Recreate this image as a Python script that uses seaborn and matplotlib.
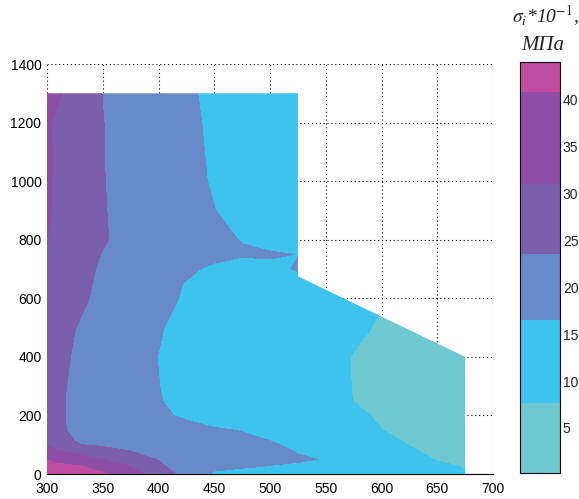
import numpy as np
import matplotlib
matplotlib.use("Agg")
import matplotlib.pyplot as plt
from matplotlib.patches import Polygon
import seaborn as sns

# grid nodes (mm) and stress intensity values sigma_i*10^-1, MPa
x_nodes = [300, 310, 325, 350, 375, 400, 425, 450, 475, 500, 525, 550, 575, 600, 625, 650, 675]
y_nodes = [0, 25, 50, 100, 150, 200, 250, 300, 400, 500, 600, 650, 700, 750, 800, 900, 1000, 1100, 1200, 1300]

sigma_grid = [
    [43.8, 43.5, 43, 41.5, 35, 26, 22, 15.5, 14.5, 14, 13.5, 13, 12, 11, 10, 9, 8],          # y=0
    [43.5, 43, 42, 38, 31, 24.8, 20, 18, 17, 16.2, 15.5, 14.5, 12.5, 11, 9.5, 8.5, 7.5],     # 25
    [40.5, 38, 35, 31, 26, 23.3, 21, 19.5, 18.5, 17.8, 17.2, 16.2, 13, 11, 9, 7.5, 6.5],     # 50
    [30, 27, 23.8, 22.5, 21.5, 20.5, 19.5, 19, 18, 17.2, 15.3, 13, 11, 9.5, 7.6, 6, 5.5],    # 100
    [28, 24.5, 22.5, 21, 20, 19, 18, 17, 16.3, 14.5, 12.5, 11.5, 10, 7.8, 6, 5.5, 5],        # 150
    [27, 24.2, 22.5, 20.8, 19, 17.3, 15.8, 14.2, 12.8, 12, 11.3, 10.5, 9, 6.8, 5.5, 5, 5],   # 200
    [26.5, 24.2, 22.5, 20.6, 18.8, 16.8, 14.8, 13, 12, 11.5, 11, 10, 7.6, 5.5, 5, 5, 5],     # 250
    [27, 24.5, 22.5, 20.5, 18.5, 16.6, 14.5, 12.5, 11.8, 11.3, 10.8, 9.8, 7.5, 5.5, 5, 5, 5],  # 300
    [28, 25.5, 22.8, 20.5, 18.5, 16.4, 14, 12.5, 11.8, 11.3, 10.8, 10, 7.4, 5.5, 5, 5, 5],   # 400
    [28.5, 26.5, 23.6, 21.5, 19.5, 17, 14.5, 13, 12, 11.5, 11, 10.5, 9, 7, 6, 5.5, 5.5],     # 500
    [29, 27.5, 24.8, 22.3, 20.3, 18.3, 15.8, 13.5, 12.5, 12, 12, 12, 11, 8, 7, 6.5, 6],      # 600
    [29.5, 27.5, 25, 22.6, 20.5, 18.5, 16.2, 14, 13, 13, 13.5, 13, 12, 11, 10, 9, 8],        # 650
    [30, 28, 25.5, 22.8, 21, 19.5, 17.5, 15.5, 14.5, 15, 17, 13, 12, 12, 12, 12, 12],        # 700
    [30.5, 28.5, 26, 23.3, 21.8, 20.5, 19.2, 18, 17, 17.2, 16.4, 12, 12, 12, 12, 12, 12],    # 750
    [31.1, 29, 26.8, 23.9, 22, 20.5, 19, 17.6, 16.3, 14, 13.5, 12, 12, 12, 12, 12, 12],      # 800
    [32, 29.5, 27, 23.8, 21.8, 20, 18.4, 16.6, 14.8, 13.6, 13, 12, 12, 12, 12, 12, 12],      # 900
    [32.2, 29.5, 27, 23.7, 21.6, 19.8, 18, 16.0, 14.2, 13.2, 12.6, 12, 12, 12, 12, 12, 12],  # 1000
    [32.3, 29.5, 27, 23.6, 21.5, 19.6, 17.8, 15.8, 14, 13, 12.5, 12, 12, 12, 12, 12, 12],    # 1100
    [32, 29.5, 27, 23.6, 21.5, 19.5, 17.6, 15.6, 14, 13, 12.5, 12, 12, 12, 12, 12, 12],      # 1200
    [42, 32, 27, 23.4, 21.5, 19.5, 17.4, 15.2, 13.8, 13, 12.5, 12, 12, 12, 12, 12, 12],      # 1300
]

# outline of the part
domain_x = [300, 300, 525, 525, 675, 675]
domain_y = [0, 1300, 1300, 675, 400, 0]

levels = [0.2, 7.7, 16.5, 23.5, 31, 40.75, 44]
band_colors = ["#70c8d0", "#3ec2ee", "#688ac8", "#7b5eac", "#8e4ea6", "#c04ca0"]
cbar_ticks = [5, 10, 15, 20, 25, 30, 35, 40]

sns.set_style("white")
plt.rcParams["font.family"] = ["Liberation Sans", "DejaVu Sans"]
plt.rcParams["mathtext.fontset"] = "stix"

fig = plt.figure(figsize=(5.79, 4.99), dpi=100)
ax = fig.add_axes([47 / 579, 25 / 499, 446 / 579, 410 / 499])
cax = fig.add_axes([520 / 579, 26 / 499, 40 / 579, 411 / 499])

X, Y = np.meshgrid(x_nodes, y_nodes)
cs = ax.contourf(X, Y, np.array(sigma_grid), levels=levels, colors=band_colors)
clip = Polygon(np.column_stack([domain_x, domain_y]), closed=True,
               transform=ax.transData, facecolor="none", edgecolor="none")
cs.set_clip_path(clip)

ax.set_xlim(300, 700)
ax.set_ylim(0, 1400)
ax.set_xticks(range(300, 701, 50))
ax.set_yticks(range(0, 1401, 200))
ax.grid(True, color="black", linestyle=(0, (1, 2.5)), linewidth=0.8)
ax.set_axisbelow(True)
for s in ["top", "right", "left"]:
    ax.spines[s].set_visible(False)
ax.spines["bottom"].set_color("black")
ax.spines["bottom"].set_linewidth(0.8)
ax.spines["bottom"].set_zorder(0.6)
ax.tick_params(length=0, labelsize=10, colors="black")
ax.tick_params(axis="x", pad=6)
ax.tick_params(axis="y", pad=4)

cb = fig.colorbar(cs, cax=cax, spacing="proportional", ticks=cbar_ticks)
cb.ax.tick_params(direction="in", left=True, right=True, length=3, width=0.8,
                  labelsize=10, pad=2)
cb.outline.set_linewidth(0.8)
cb.outline.set_edgecolor("black")

fig.text(545 / 579, 1 - 16 / 499, r"$\sigma_i$*10$^{-1}$,", ha="center", va="center",
         fontsize=14, family="Liberation Serif", style="italic")
fig.text(543 / 579, 1 - 45 / 499, "МПа", ha="center", va="center",
         fontsize=15, family="Liberation Serif", style="italic")

fig.savefig("out.png", dpi=100)
